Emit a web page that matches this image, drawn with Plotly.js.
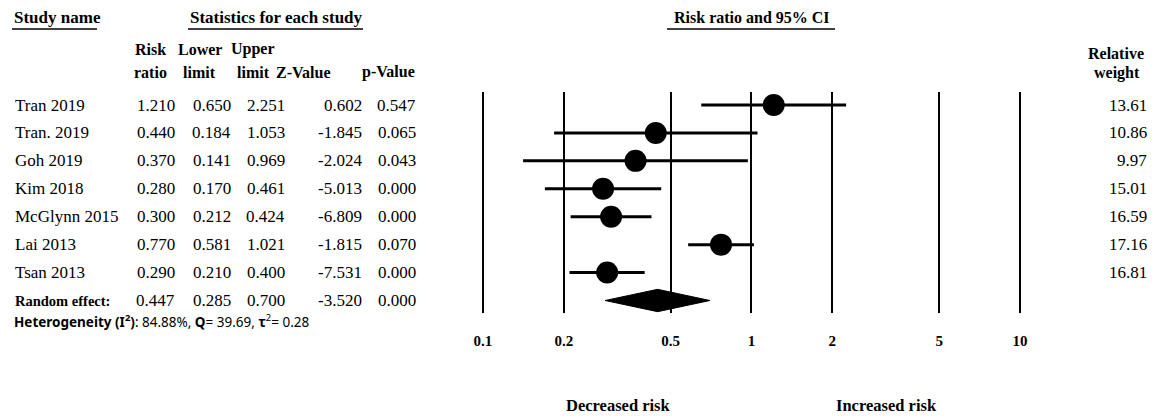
<!DOCTYPE html>
<html><head><meta charset="utf-8">
<script src="https://cdn.plot.ly/plotly-3.0.1.min.js"></script>
<style>html,body{margin:0;padding:0;background:#fff}</style>
</head><body><div id="chart" style="width:1156px;height:416px"></div>
<script>
// ---- data ----
const studies = ["Tran 2019","Tran. 2019","Goh 2019","Kim 2018","McGlynn 2015","Lai 2013","Tsan 2013"];
const riskRatio = [1.210,0.440,0.370,0.280,0.300,0.770,0.290];
const lowerLimit = [0.650,0.184,0.141,0.170,0.212,0.581,0.210];
const upperLimit = [2.251,1.053,0.969,0.461,0.424,1.021,0.400];
const zValue = [0.602,-1.845,-2.024,-5.013,-6.809,-1.815,-7.531];
const pValue = [0.547,0.065,0.043,0.000,0.000,0.070,0.000];
const relWeight = ["13.61","10.86","9.97","15.01","16.59","17.16","16.81"];
const pooledLabel = "Random effect:";
const pooledValues = [0.447,0.285,0.700,-3.520,0.000]; // RR, lower, upper, Z, p
const heterogeneityText = "<b>Heterogeneity (I<sup>2</sup>)</b>: 84.88%, <b>Q</b>= 39.69, <b>τ</b><sup>2</sup>= 0.28";
const tickVals = [0.1,0.2,0.5,1,2,5,10];
const tickText = ["0.1","0.2","0.5","1","2","5","10"];
const colHeadTop = ["Risk","Lower","Upper","",""];
const colHeadBottom = ["ratio","limit","limit","Z-Value","p-Value"];

// ---- layout helpers ----
const W = 1156, H = 416;
const px = v => v / W;
const py = v => 1 - v / H;
const rowTop = 105, rowStep = 27.93;
const plotTop = 92, plotBottom = 313;
const pxPerDecade = 268.5, x0px = 483; // pixel of 0.1
const pad = 0.005;
const serif = "Liberation Serif";
const numCols = [177, 233, 287, 364, 418];
const headCols = [150, 200, 253, 303, 388];

const nRows = studies.length;
const rows = studies.map((_, i) => i);
const pooledRow = nRows;

const traces = [
  {
    type: 'scatter', mode: 'markers', x: riskRatio, y: rows,
    marker: {size: 22, color: 'black'},
    error_x: {type: 'data', symmetric: false,
      array: upperLimit.map((u, i) => u - riskRatio[i]),
      arrayminus: lowerLimit.map((l, i) => riskRatio[i] - l),
      color: 'black', thickness: 3, width: 0},
    cliponaxis: false, hoverinfo: 'skip'
  },
  {
    type: 'scatter', mode: 'lines',
    x: [pooledValues[1], pooledValues[0], pooledValues[2], pooledValues[0], pooledValues[1]],
    y: [pooledRow, pooledRow - 0.40, pooledRow, pooledRow + 0.40, pooledRow],
    fill: 'toself', fillcolor: 'black', line: {color: 'black', width: 1},
    cliponaxis: false, hoverinfo: 'skip'
  }
];

const ann = [];
const txt = (text, x, y, opts) => ann.push(Object.assign({
  text, x, y, xref: 'paper', yref: 'paper', showarrow: false,
  xanchor: 'center', yanchor: 'middle',
  font: {family: serif, size: 17, color: 'black'}
}, opts || {}));
const f = s => ({font: {family: serif, size: s, color: 'black'}});

// headers
txt("<b>Study name</b>", px(12), py(18), {xanchor: 'left'});
txt("<b>Statistics for each study</b>", px(276), py(18));
txt("<b>Risk ratio and 95% CI</b>", px(752), py(18), f(16));
colHeadTop.forEach((t, i) => { if (t) txt("<b>" + t + "</b>", px(headCols[i]), py(49), f(16)); });
colHeadBottom.forEach((t, i) => txt("<b>" + t + "</b>", px(headCols[i]), py(72), f(16)));
txt("<b>Relative</b>", px(1116), py(53), f(16));
txt("<b>weight</b>", px(1117), py(73), f(16));

// study rows
studies.forEach((s, i) => {
  const yv = {yref: 'y'};
  txt(s, px(13), i, Object.assign({xanchor: 'left'}, yv));
  const vals = [riskRatio[i], lowerLimit[i], upperLimit[i], zValue[i], pValue[i]];
  vals.forEach((v, c) => txt(v.toFixed(3), px(numCols[c]), i, Object.assign({xanchor: 'right'}, yv)));
  txt(relWeight[i], px(1149), i, Object.assign({xanchor: 'right'}, yv));
});
// pooled row
txt("<b>" + pooledLabel + "</b>", px(13), pooledRow, Object.assign({xanchor: 'left', yref: 'y'}, f(14.5)));
pooledValues.forEach((v, c) => txt(v.toFixed(3), px(numCols[c]), pooledRow, {xanchor: 'right', yref: 'y'}));
txt(heterogeneityText, px(12), py(321), {xanchor: 'left', font: {family: "Noto Sans", size: 13.5, color: 'black'}});

// bottom labels
txt("<b>Decreased risk</b>", px(618), py(405), f(16.5));
txt("<b>Increased risk</b>", px(886), py(405), f(16.5));

const underline = (a, b, y) => ({type: 'line', xref: 'paper', yref: 'paper',
  x0: px(a), x1: px(b), y0: py(y), y1: py(y), line: {color: 'black', width: 1.3}});

const layout = {
  width: W, height: H,
  margin: {l: 0, r: 0, t: 0, b: 0},
  paper_bgcolor: 'white', plot_bgcolor: 'rgba(0,0,0,0)',
  showlegend: false,
  font: {family: serif, color: 'black'},
  xaxis: {
    type: 'log',
    range: [-1 - pad, 1 + pad],
    domain: [px(x0px - pad * pxPerDecade), px(x0px + 2 * pxPerDecade + pad * pxPerDecade)],
    tickvals: tickVals, ticktext: tickText,
    showgrid: true, gridcolor: 'black', gridwidth: 2,
    zeroline: false, showline: false, ticks: '',
    ticklabelstandoff: 17,
    tickfont: {family: serif, size: 15, color: 'black', weight: 'bold'},
    fixedrange: true
  },
  yaxis: {
    domain: [py(plotBottom), py(plotTop)],
    range: [(plotBottom - rowTop) / rowStep, (plotTop - rowTop) / rowStep],
    visible: false, fixedrange: true
  },
  annotations: ann,
  shapes: [underline(12, 97, 29), underline(188, 363, 29), underline(667, 835, 29)]
};

Plotly.newPlot('chart', traces, layout, {displayModeBar: false, staticPlot: true});
</script>
</body></html>
